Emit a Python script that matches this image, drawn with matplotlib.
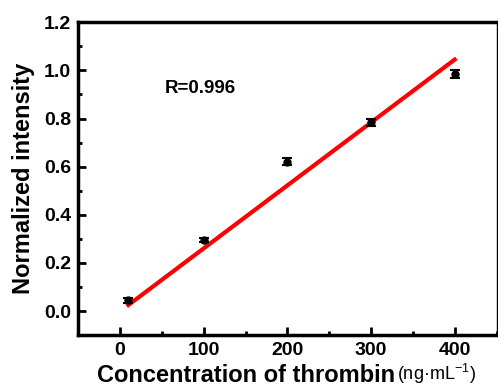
import numpy as np
import matplotlib
matplotlib.use('Agg')
import matplotlib.pyplot as plt
from matplotlib.ticker import MultipleLocator

plt.rcParams['font.family'] = ['Liberation Sans', 'DejaVu Sans']
plt.rcParams['mathtext.default'] = 'regular'

# thrombin concentration vs normalized intensity
conc = [10, 100, 200, 300, 400]
intensity = [0.045, 0.295, 0.62, 0.785, 0.985]
err = [0.01, 0.01, 0.015, 0.015, 0.015]
fit_x = [10, 400]
fit_y = [0.025, 1.045]
r_label = 'R=0.996'

fig = plt.figure(figsize=(4.98, 3.91), dpi=100)
ax = fig.add_axes([0.157, 0.143, 0.84, 0.8])

ax.errorbar(conc, intensity, yerr=err, fmt='o', color='black', ms=5,
            capsize=3.5, elinewidth=1.5, capthick=1.5, zorder=3)
ax.plot(fit_x, fit_y, color='red', lw=3, zorder=2)

ax.text(53, 0.925, r_label, fontsize=13.5, fontweight='bold', va='center')

ax.set_xlim(-50, 450)
ax.set_ylim(-0.1, 1.2)
ax.xaxis.set_major_locator(MultipleLocator(100))
ax.xaxis.set_minor_locator(MultipleLocator(50))
ax.yaxis.set_major_locator(MultipleLocator(0.2))
ax.yaxis.set_minor_locator(MultipleLocator(0.1))
ax.yaxis.set_major_formatter(plt.FuncFormatter(lambda v, p: f'{v:.1f}'))

ax.tick_params(which='both', direction='in', top=False, right=False, width=2)
ax.tick_params(which='major', length=6, labelsize=14, pad=5)
ax.tick_params(which='minor', length=3)
for lab in ax.get_xticklabels() + ax.get_yticklabels():
    lab.set_fontweight('bold')

for side in ['left', 'bottom', 'top']:
    ax.spines[side].set_linewidth(2.5)
ax.spines['right'].set_linewidth(1)

fig.text(0.024, 0.545, 'Normalized intensity', fontsize=17, fontweight='bold',
         rotation=90, ha='left', va='center')
fig.text(0.195, 0.01, 'Concentration of thrombin', fontsize=17, fontweight='bold',
         ha='left', va='bottom')
fig.text(0.797, 0.012, '(ng·mL$^{-1}$)', fontsize=13, ha='left', va='bottom')

fig.savefig('out.png', dpi=100)
